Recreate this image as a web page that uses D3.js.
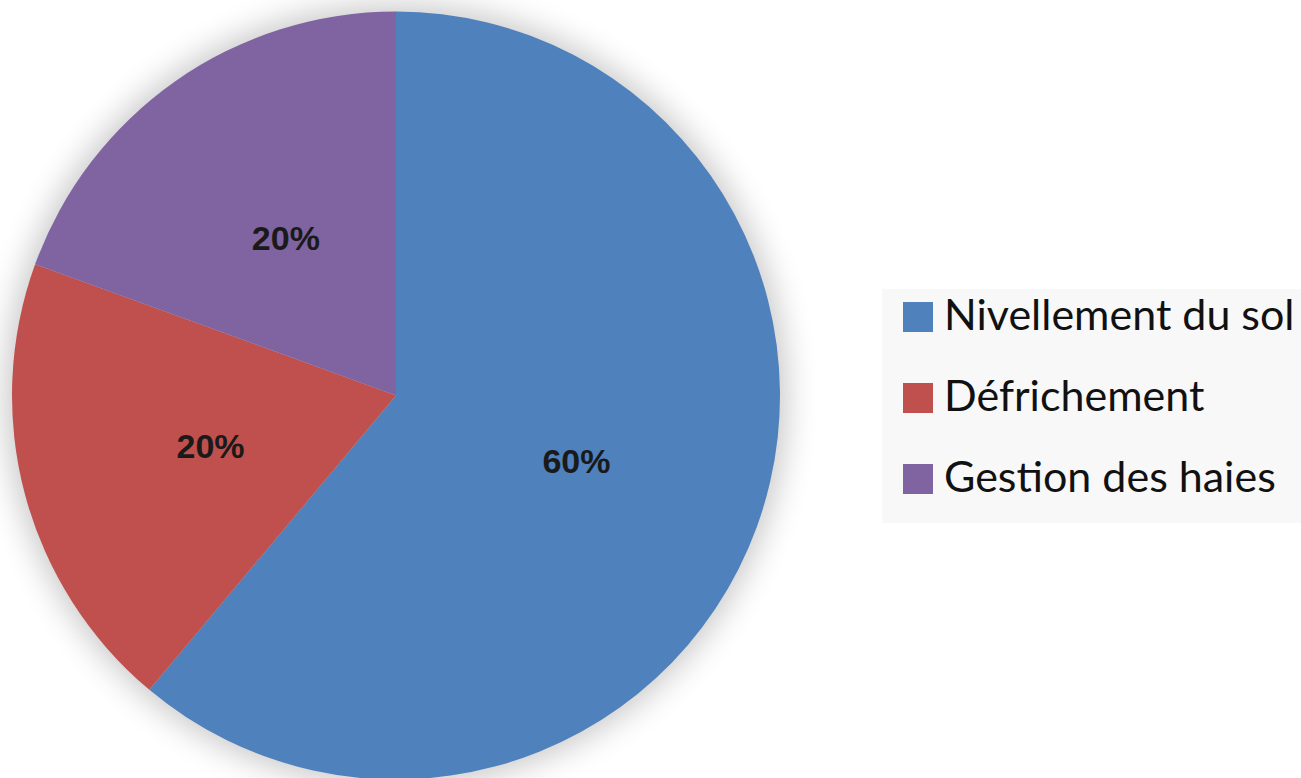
<!DOCTYPE html>
<html>
<head>
<meta charset="utf-8">
<script src="https://cdn.jsdelivr.net/npm/d3@7"></script>
<style>
  body { margin: 0; background: #ffffff; }
  .label { font-family: "Liberation Sans", Arial, sans-serif; font-weight: bold; font-size: 34px; fill: #1a1a1a; }
  .legendText { font-family: Lato, "Open Sans", sans-serif; font-size: 43px; fill: #111111; }
</style>
</head>
<body>
<svg id="chart"></svg>
<script>

// data
var categories = ["Nivellement du sol", "Défrichement", "Gestion des haies"]
var values = [61.1, 19.45, 19.45]
var labels = ["60%", "20%", "20%"]
var colors = ["#4f81bd", "#c0504d", "#8064a2"]

var screen = {width: 1301, height: 778}

var drawPie = function(svg)
{
    var center = {x: 396, y: 395.5}
    var radius = 384

    var defs = svg.append("defs")
    var filter = defs.append("filter")
        .attr("id", "glow")
        .attr("x", "-30%").attr("y", "-30%")
        .attr("width", "160%").attr("height", "160%")
    filter.append("feGaussianBlur")
        .attr("stdDeviation", 16)

    var target = svg.append("g")
        .attr("transform", "translate(" + center.x + "," + center.y + ")")

    // soft shadow round the pie
    target.append("circle")
        .attr("r", radius + 6)
        .attr("fill", "#000")
        .attr("opacity", 0.22)
        .attr("filter", "url(#glow)")

    var pie = d3.pie().sort(null).value(function(d) { return d.value })
    var arc = d3.arc().innerRadius(0).outerRadius(radius)
    var labelArc = d3.arc().innerRadius(radius * 0.5).outerRadius(radius * 0.5)

    var data = categories.map(function(c, i)
    {
        return {name: c, value: values[i], label: labels[i], color: colors[i]}
    })

    var slices = target.selectAll("g.slice")
        .data(pie(data))
        .enter()
        .append("g")
        .classed("slice", true)

    slices.append("path")
        .attr("d", arc)
        .attr("fill", function(d) { return d.data.color })

    slices.append("text")
        .classed("label", true)
        .attr("text-anchor", "middle")
        .attr("dy", "0.36em")
        .attr("transform", function(d)
        {
            var c = labelArc.centroid(d)
            return "translate(" + c[0] + "," + c[1] + ")"
        })
        .text(function(d) { return d.data.label })
}

var drawLegend = function(svg)
{
    var box = {x: 882, y: 289, width: 419, height: 234}

    var legend = svg.append("g").classed("legend", true)

    legend.append("rect")
        .attr("x", box.x)
        .attr("y", box.y)
        .attr("width", box.width)
        .attr("height", box.height)
        .attr("fill", "#f8f8f8")

    var yScale = d3.scalePoint()
        .domain(categories)
        .range([317, 479])

    var items = legend.selectAll("g.item")
        .data(categories)
        .enter()
        .append("g")
        .classed("item", true)
        .attr("transform", function(d) { return "translate(0," + yScale(d) + ")" })

    items.append("rect")
        .attr("x", 903)
        .attr("y", -15)
        .attr("width", 30)
        .attr("height", 30)
        .attr("fill", function(d, i) { return colors[i] })

    items.append("text")
        .classed("legendText", true)
        .attr("x", 944)
        .attr("y", 13)
        .text(function(d) { return d })
}

var svg = d3.select("#chart")
    .attr("width", screen.width)
    .attr("height", screen.height)

drawPie(svg)
drawLegend(svg)

</script>
</body>
</html>
